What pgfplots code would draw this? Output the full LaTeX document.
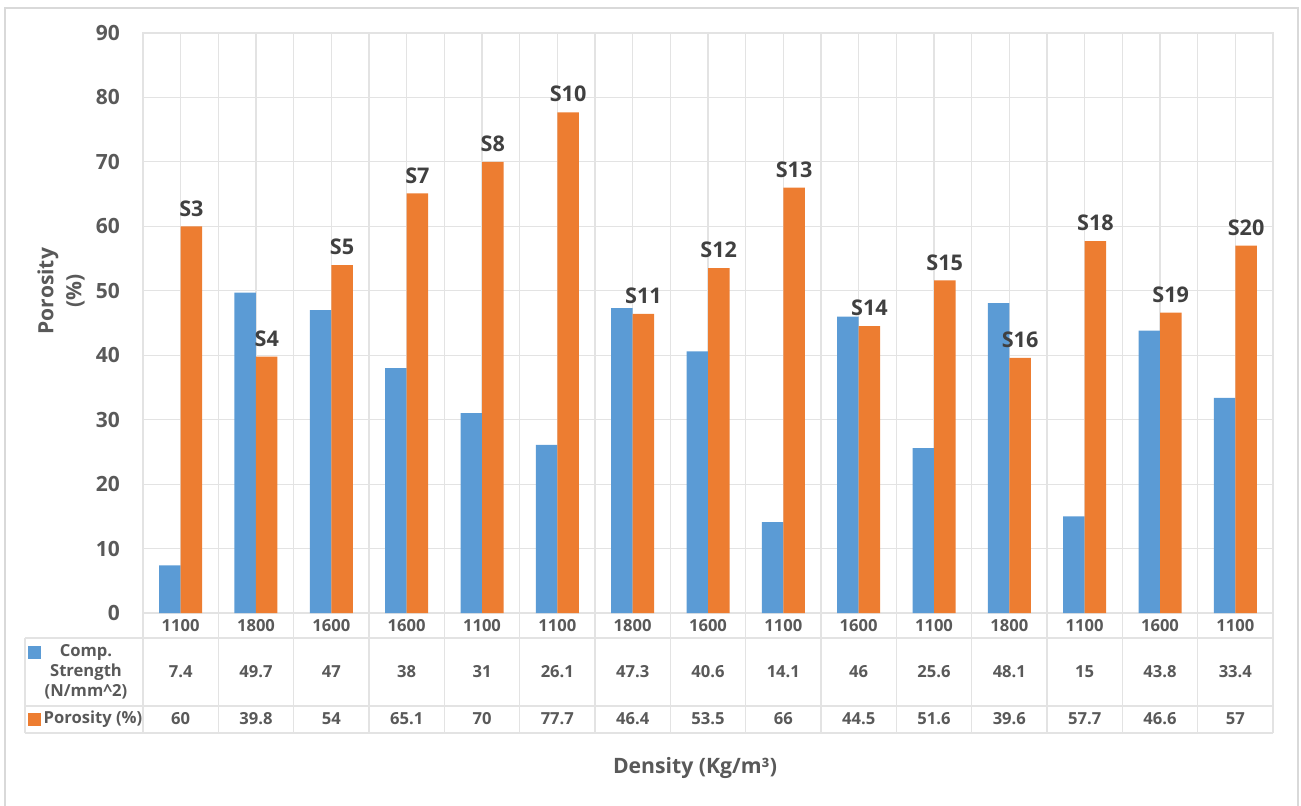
\documentclass[border=0pt]{standalone}
\usepackage{fontspec}
\setmainfont{Open Sans}
\usepackage{pgfplots}
\usepackage{pgfplotstable}
\pgfplotsset{compat=1.18}

\definecolor{cblue}{HTML}{5B9BD5}
\definecolor{corange}{HTML}{ED7D31}
\definecolor{txt}{HTML}{595959}
\definecolor{grid}{HTML}{E3E3E3}

% x  strength  porosity  density  sample
\pgfplotstableread{
x  str   por   dens  lab
1  7.4   60    1100  S3
2  49.7  39.8  1800  S4
3  47    54    1600  S5
4  38    65.1  1600  S7
5  31    70    1100  S8
6  26.1  77.7  1100  S10
7  47.3  46.4  1800  S11
8  40.6  53.5  1600  S12
9  14.1  66    1100  S13
10 46    44.5  1600  S14
11 25.6  51.6  1100  S15
12 48.1  39.6  1800  S16
13 15    57.7  1100  S18
14 43.8  46.6  1600  S19
15 33.4  57    1100  S20
}\data

\begin{document}
\begin{tikzpicture}
\begin{axis}[
    at={(0,0)}, anchor=south west,
    scale only axis,
    width=565pt, height=290pt,
    clip=false,
    xmin=0.5, xmax=15.5,
    ymin=0, ymax=90,
    ytick={0,10,...,90},
    xtick=data,
    xticklabels from table={\data}{dens},
    minor xtick={0.5,1.5,...,15.5},
    xmajorgrids, xminorgrids, ymajorgrids,
    grid style={draw=grid, line width=0.6pt},
    minor grid style={draw=grid, line width=0.6pt},
    axis line style={draw=grid, line width=0.6pt},
    major tick length=0pt, minor tick length=0pt,
    /pgf/number format/assume math mode=true,
    yticklabel style={font=\bfseries\fontsize{10.5}{12}\selectfont, text=txt},
    yticklabel shift=8pt,
    xticklabel style={font=\bfseries\fontsize{8.3}{9}\selectfont, text=txt, anchor=center, yshift=-6.5pt},
    ylabel={Porosity\\(\%)},
    ylabel style={font=\bfseries\fontsize{10.5}{14}\selectfont, text=txt, align=center,
        at={(axis description cs:-0.0726,0.555)}, anchor=center},
    xlabel={Density (Kg/m³)},
    xlabel style={font=\bfseries\fontsize{10.6}{12}\selectfont, text=txt,
        at={(axis description cs:0.4885,0)}, anchor=center, yshift=-77.5pt},
]
\addplot[ybar, bar width=10.75pt, bar shift=-5.375pt, fill=cblue, draw=none]
    table[x=x, y=str] {\data};
\addplot[ybar, bar width=10.75pt, bar shift=5.375pt, fill=corange, draw=none,
    nodes near coords, point meta=explicit symbolic,
    every node near coord/.append style={font=\bfseries\fontsize{10.8}{12}\selectfont,
        text=black!75, anchor=south, xshift=5.375pt, yshift=1.5pt}]
    table[x=x, y=por, meta=lab] {\data};
% data table rows
\addplot[draw=none, mark=none, nodes near coords, point meta=explicit symbolic,
    every node near coord/.append style={font=\bfseries\fontsize{8.3}{9}\selectfont,
        text=txt, anchor=center, inner sep=0pt}]
    table[x=x, y expr=-9.155, meta=str] {\data};
\addplot[draw=none, mark=none, nodes near coords, point meta=explicit symbolic,
    every node near coord/.append style={font=\bfseries\fontsize{8.3}{9}\selectfont,
        text=txt, anchor=center, inner sep=0pt}]
    table[x=x, y expr=-16.45, meta=por] {\data};
\end{axis}

% table grid
\begin{scope}[draw=grid, line width=0.6pt]
  \foreach \i in {0,...,15} \draw (\i*37.6667pt,0) -- (\i*37.6667pt,-60pt);
  \draw (-59pt,-12.5pt) -- (565pt,-12.5pt);
  \draw (-59pt,-46.5pt) -- (565pt,-46.5pt);
  \draw (-59pt,-60pt) -- (565pt,-60pt);
  \draw (-59pt,-12.5pt) -- (-59pt,-60pt);
\end{scope}
% legend keys
\fill[cblue] (-57.5pt,-22.75pt) rectangle (-51pt,-16.25pt);
\fill[corange] (-57.5pt,-56.25pt) rectangle (-51pt,-49.75pt);
\node[font=\bfseries\fontsize{8.3}{10}\selectfont, text=txt, align=center]
  at (-28.5pt,-29.5pt) {Comp.\\Strength\\(N/mm\textasciicircum 2)};
\node[font=\bfseries\fontsize{8.3}{9}\selectfont, text=txt, anchor=center]
  at (-25pt,-53pt) {Porosity (\%)};

% chart frame
\draw[draw=black!15, line width=0.75pt] (-69pt,-110pt) rectangle (577.5pt,302.5pt);
\pgfresetboundingbox
\path[use as bounding box] (-71.5pt,-96pt) rectangle (579pt,306.5pt);
\end{tikzpicture}
\end{document}
